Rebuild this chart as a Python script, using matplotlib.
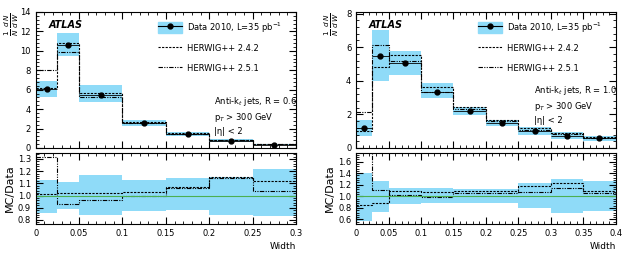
import matplotlib
matplotlib.use("Agg")
import matplotlib.pyplot as plt
import numpy as np
from matplotlib.ticker import MultipleLocator, AutoMinorLocator
from matplotlib.patches import Patch
from matplotlib.lines import Line2D

# R = 0.6 panel
edges_l = [0, 0.025, 0.05, 0.1, 0.15, 0.2, 0.25, 0.3]
data_l = [6.1, 10.6, 5.5, 2.6, 1.4, 0.75, 0.35]
band_lo_l = [5.2, 9.5, 4.7, 2.3, 1.2, 0.65, 0.28]
band_hi_l = [6.9, 11.8, 6.5, 2.9, 1.6, 0.88, 0.43]
rband_lo_l = [0.86, 0.89, 0.84, 0.875, 0.88, 0.84, 0.83]
rband_hi_l = [1.13, 1.11, 1.17, 1.13, 1.14, 1.15, 1.22]
r242_l = [1.01, 1.02, 1.02, 1.03, 1.07, 1.15, 1.12]
r251_l = [1.32, 0.93, 0.96, 1.0, 1.06, 1.14, 1.04]

# R = 1.0 panel
edges_r = [0, 0.025, 0.05, 0.1, 0.15, 0.2, 0.25, 0.3, 0.35, 0.4]
data_r = [1.2, 5.5, 5.05, 3.35, 2.2, 1.5, 1.0, 0.72, 0.58]
band_lo_r = [0.7, 4.0, 4.35, 2.95, 1.95, 1.33, 0.8, 0.52, 0.43]
band_hi_r = [1.68, 7.0, 5.8, 3.85, 2.45, 1.67, 1.23, 0.93, 0.73]
rband_lo_r = [0.57, 0.73, 0.86, 0.88, 0.88, 0.89, 0.79, 0.71, 0.74]
rband_hi_r = [1.4, 1.27, 1.15, 1.14, 1.12, 1.12, 1.23, 1.3, 1.27]
r242_r = [0.85, 0.88, 1.1, 1.08, 1.1, 1.1, 1.18, 1.23, 1.1]
r251_r = [1.8, 1.11, 1.02, 0.99, 1.05, 1.05, 1.08, 1.15, 1.05]

blue = "#8fdbf8"
green = "#4caf50"
dash = (0, (2, 1.2))
dashdot = (0, (4, 1.2, 1, 1.2, 1, 1.2))


def step(ax, edges, vals, **kw):
    ax.stairs(vals, edges, baseline=None, **kw)


def style(ax, xmax, ymaj, ymin_n):
    ax.tick_params(which="both", direction="in", top=True, right=True, labelsize=6)
    ax.tick_params(which="major", length=5)
    ax.tick_params(which="minor", length=2.5)
    ax.xaxis.set_major_locator(MultipleLocator(0.05))
    ax.xaxis.set_minor_locator(AutoMinorLocator(5))
    ax.yaxis.set_major_locator(MultipleLocator(ymaj))
    ax.yaxis.set_minor_locator(AutoMinorLocator(ymin_n))
    ax.set_xlim(0, xmax)
    for s in ax.spines.values():
        s.set_linewidth(0.8)


def panel(fig, x0, w, edges, data, blo, bhi, rlo, rhi, r242, r251,
          ylim, ymaj, rylim, rmaj, xmax, rtext, ty, xticks):
    e = np.array(edges)
    d = np.array(data)
    centers = (e[:-1] + e[1:]) / 2
    widths = np.diff(e)

    ax = fig.add_axes([x0, 0.431, w, 0.523])
    ax.bar(e[:-1], np.array(bhi) - np.array(blo), width=widths, bottom=blo,
           align="edge", color=blue, lw=0)
    step(ax, edges, d * np.array(r242), color="k", ls=dash, lw=0.8)
    step(ax, edges, d * np.array(r251), color="k", ls=dashdot, lw=0.8)
    ax.hlines(d, e[:-1], e[1:], color="k", lw=0.6)
    ax.plot(centers, d, "o", color="k", ms=3.5)
    style(ax, xmax, ymaj, 5)
    ax.set_ylim(*ylim)
    ax.set_xticklabels([])
    ax.text(0.05, 0.88, "ATLAS", transform=ax.transAxes, fontsize=7,
            fontweight="bold", style="italic")
    handles = [
        (Patch(color=blue), Line2D([], [], color="k", marker="o", ms=3.5, lw=0.8)),
        Line2D([], [], color="k", ls=dash, lw=0.8),
        Line2D([], [], color="k", ls=dashdot, lw=0.8),
    ]
    labels = ["Data 2010, L=35 pb$^{-1}$", "HERWIG++ 2.4.2", "HERWIG++ 2.5.1"]
    ax.legend(handles, labels, loc="upper left", bbox_to_anchor=(0.47, 0.94),
              frameon=False, fontsize=6, handlelength=2.9, labelspacing=1.05,
              handleheight=1.6, handletextpad=0.6, borderpad=0, borderaxespad=0)
    ax.text(0.685, ty, rtext, transform=ax.transAxes, fontsize=6, va="top",
            linespacing=1.35)
    ax.text(-0.094, 1.0, r"$\frac{1}{N}\,\frac{d\,N}{d\,W}$", transform=ax.transAxes,
            fontsize=7.5, rotation=90, ha="center", va="top")

    rx = fig.add_axes([x0, 0.138, w, 0.274])
    rx.bar(e[:-1], np.array(rhi) - np.array(rlo), width=widths, bottom=rlo,
           align="edge", color=blue, lw=0)
    rx.axhline(1, color=green, lw=0.8)
    step(rx, edges, r242, color="k", ls=dash, lw=0.8)
    step(rx, edges, r251, color="k", ls=dashdot, lw=0.8)
    style(rx, xmax, rmaj, 5)
    rx.set_ylim(*rylim)
    rx.set_xticks(xticks)
    rx.set_xticklabels([("%g" % t) for t in xticks])
    rx.set_ylabel("MC/Data", fontsize=8, labelpad=2)
    rx.text(1.0, -0.32, "Width", transform=rx.transAxes, fontsize=6.5, ha="right",
            va="center")


fig = plt.figure(figsize=(6.27, 2.6), dpi=100)

panel(fig, 0.057, 0.415, edges_l, data_l, band_lo_l, band_hi_l, rband_lo_l,
      rband_hi_l, r242_l, r251_l, (0, 14), 2, (0.765, 1.35), 0.1, 0.3,
      "Anti-k$_t$ jets, R = 0.6\np$_T$ > 300 GeV\n|\u03b7| < 2", 0.39,
      [0, 0.05, 0.1, 0.15, 0.2, 0.25, 0.3])
panel(fig, 0.568, 0.414, edges_r, data_r, band_lo_r, band_hi_r, rband_lo_r,
      rband_hi_r, r242_r, r251_r, (0, 8.1), 2, (0.52, 1.75), 0.2, 0.4,
      "Anti-k$_t$ jets, R = 1.0\np$_T$ > 300 GeV\n|\u03b7| < 2", 0.47,
      [0, 0.05, 0.1, 0.15, 0.2, 0.25, 0.3, 0.35, 0.4])

fig.savefig("out.png", dpi=100)
